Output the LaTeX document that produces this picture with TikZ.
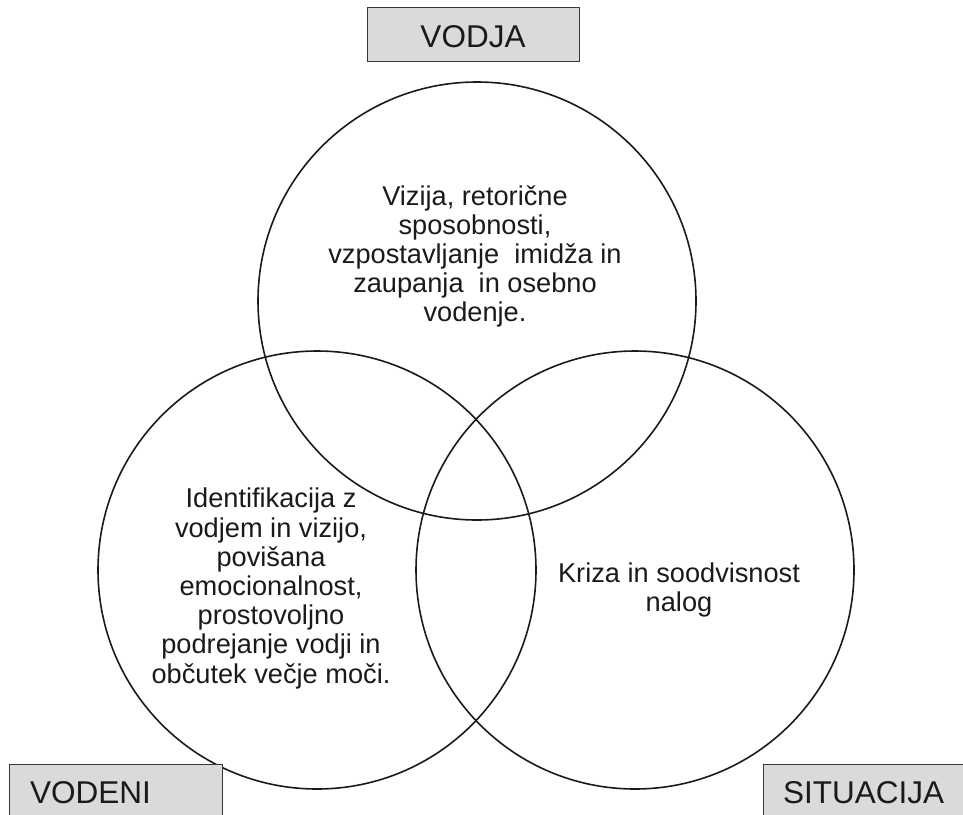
\documentclass[tikz,border=0pt]{standalone}
\usepackage{fontspec}
\setmainfont{Liberation Sans}
\definecolor{boxfill}{HTML}{DADADA}
\definecolor{boxline}{HTML}{383838}
\definecolor{inkc}{HTML}{1A1A1A}
\begin{document}
\begin{tikzpicture}[x=1pt,y=-1pt,
  ring/.style={circle, draw=inkc, line width=1.6pt, minimum size=438pt, inner sep=0pt},
  boxst/.style={rectangle, draw=boxline, fill=boxfill, line width=1pt, inner sep=0pt},
  lbl/.style={inner sep=0pt, text=inkc, font=\fontsize{31.5}{36}\selectfont},
  body/.style={inner sep=0pt, text=inkc, align=center, font=\fontsize{27.2}{29.2}\selectfont}]
\useasboundingbox (0,0) rectangle (963,814);
% circles
\node[ring] (cVodja) at (477,301) {};
\node[ring] (cVodeni) at (317,570) {};
\node[ring] (cSituacija) at (635,570) {};
% boxes
\node[boxst, anchor=north west, minimum width=212pt, minimum height=54pt] (bVodja) at (367,7) {};
\node[lbl, anchor=base] (tVodja) at (473,47) {VODJA};
\node[boxst, anchor=north west, minimum width=213pt, minimum height=70pt] (bVodeni) at (9,764) {};
\node[lbl, anchor=base west] (tVodeni) at (30,803) {VODENI};
\node[boxst, anchor=north west, minimum width=220pt, minimum height=70pt] (bSituacija) at (763,764) {};
\node[lbl, anchor=base west] (tSituacija) at (783,803) {SITUACIJA};
% texts
\node[body] (txVodja) at (475,256.5) {Vizija, retorične\\ sposobnosti,\\ vzpostavljanje~ imidža in\\ zaupanja~ in osebno\\ vodenje.};
\node[body] (txVodeni) at (271,588.5) {Identifikacija z\\ vodjem in vizijo,\\ povišana\\ emocionalnost,\\ prostovoljno\\ podrejanje vodji in\\ občutek večje moči.};
\node[body] (txSituacija) at (679,590) {Kriza in soodvisnost\\ nalog};
\end{tikzpicture}
\end{document}
